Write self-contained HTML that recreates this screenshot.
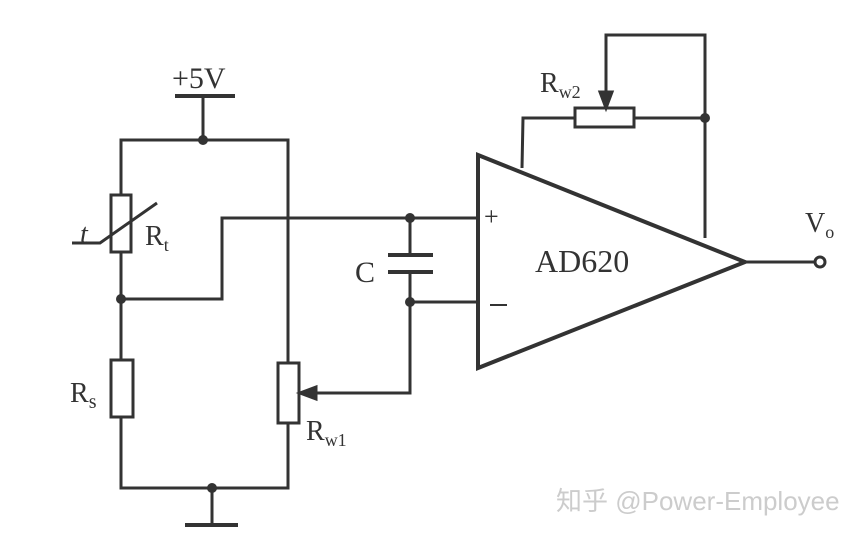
<!DOCTYPE html>
<html><head><style>body{margin:0;background:#fff}svg{display:block}</style></head><body>
<svg width="867" height="540" viewBox="0 0 867 540" xmlns="http://www.w3.org/2000/svg" font-family="Liberation Serif, serif" fill="none" stroke="#333" stroke-width="3">
<text x="172" y="88" font-size="30" fill="#333" stroke="none">+5V</text>
<line x1="175" y1="96" x2="235" y2="96" stroke-width="4"/>
<line x1="203" y1="96" x2="203" y2="140"/>
<polyline points="121,195 121,140 288,140 288,363"/>
<rect x="111" y="195" width="20" height="57"/>
<polyline points="72,243 100,243 157,203"/>
<text x="80" y="243" font-size="28" font-style="italic" fill="#333" stroke="none">t</text>
<text x="145" y="245" font-size="28" fill="#333" stroke="none">R<tspan font-size="18" dy="6">t</tspan></text>
<line x1="121" y1="252" x2="121" y2="360"/>
<polyline points="121,299 222,299 222,218 480,218"/>
<rect x="111" y="360" width="22" height="57"/>
<text x="70" y="402" font-size="28" fill="#333" stroke="none">R<tspan font-size="20" dy="6">s</tspan></text>
<polyline points="121,417 121,488 288,488 288,423"/>
<rect x="278" y="363" width="21" height="60"/>
<text x="306" y="440" font-size="28" fill="#333" stroke="none">R<tspan font-size="18" dy="6">w1</tspan></text>
<line x1="212" y1="488" x2="212" y2="525"/>
<line x1="185" y1="525" x2="238" y2="525" stroke-width="4"/>
<polyline points="410,218 410,255"/>
<line x1="388" y1="255" x2="433" y2="255" stroke-width="4"/>
<line x1="388" y1="272" x2="433" y2="272" stroke-width="4"/>
<polyline points="410,272 410,393 302,393"/>
<polygon points="300,393 316,387 316,399" fill="#333"/>
<line x1="410" y1="302" x2="480" y2="302"/>
<text x="355" y="282" font-size="30" fill="#333" stroke="none">C</text>
<polygon points="478,155 478,368 745,262" stroke-width="4"/>
<text x="484" y="225" font-size="26" fill="#333" stroke="none">+</text>
<line x1="490" y1="305" x2="507" y2="305" stroke-width="2"/>
<text x="535" y="272" font-size="32" fill="#333" stroke="none">AD620</text>
<line x1="745" y1="262" x2="815" y2="262"/>
<circle cx="820" cy="262" r="5" fill="#fff"/>
<text x="805" y="232" font-size="28" fill="#333" stroke="none">V<tspan font-size="18" dy="6">o</tspan></text>
<polyline points="522,168 523,118 575,118"/>
<rect x="575" y="108" width="59" height="19"/>
<line x1="634" y1="118" x2="705" y2="118"/>
<polyline points="705,238 705,35 606,35 606,96"/>
<polygon points="606,108 600,92 612,92" fill="#333"/>
<text x="540" y="92" font-size="28" fill="#333" stroke="none">R<tspan font-size="18" dy="6">w2</tspan></text>
<g fill="#333" stroke="none">
<circle cx="203" cy="140" r="5"/><circle cx="121" cy="299" r="5"/><circle cx="410" cy="218" r="5"/><circle cx="410" cy="302" r="5"/><circle cx="212" cy="488" r="5"/><circle cx="705" cy="118" r="5"/>
</g>
<text x="556" y="510" font-size="26" font-family="Liberation Sans, Noto Sans CJK SC, sans-serif" fill="#ccc" stroke="none">知乎 @Power-Employee</text>
</svg>
</body></html>
